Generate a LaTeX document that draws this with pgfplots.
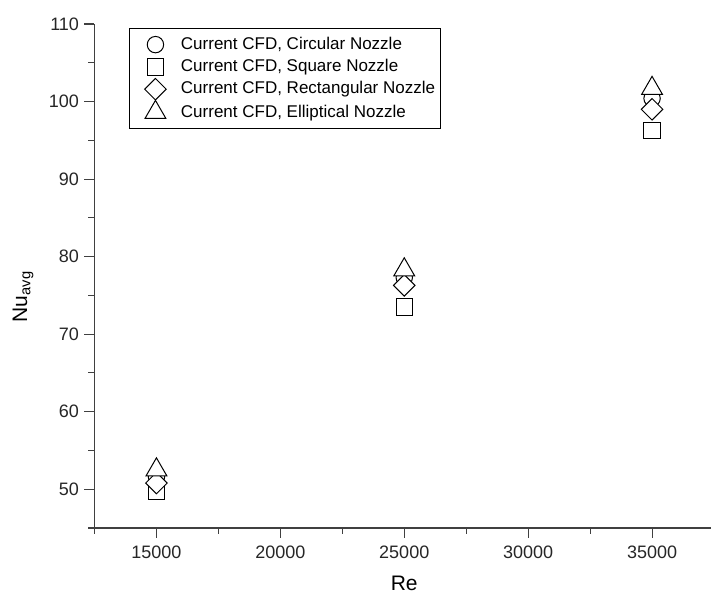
\documentclass[border=0pt]{standalone}
\usepackage{pgfplots}
\pgfplotsset{compat=1.18}
\usepackage{fontspec}
\setmainfont{Liberation Sans}
\begin{document}
\begin{tikzpicture}
\begin{axis}[
  name=ax,
  scale only axis,
  width=619.5pt, height=504pt,
  xmin=12500, xmax=37500, ymin=45, ymax=110,
  axis lines=left,
  axis line style={-, line width=1.1pt, draw=black!75},
  xtick={15000,20000,25000,30000,35000},
  minor xtick={12500,17500,22500,27500,32500,37500},
  ytick={50,60,70,80,90,100,110},
  minor ytick={45,55,65,75,85,95,105},
  scaled x ticks=false,
  xticklabel style={/pgf/number format/fixed, /pgf/number format/precision=0, yshift=-4pt},
  yticklabel style={xshift=-2pt},
  tick align=outside,
  major tick length=10pt, minor tick length=6pt,
  every tick/.style={line width=1.1pt, draw=black!75},
  /pgf/number format/1000 sep={},
  /pgf/number format/assume math mode=true,
  ticklabel style={font=\fontsize{18}{20}\selectfont, text=black!85},
  xlabel={Re},
  ylabel={Nu\textsubscript{avg}},
  every axis x label/.style={at={(axis description cs:0.5,0)}, yshift=-55pt, anchor=center, font=\fontsize{21}{24}\selectfont},
  every axis y label/.style={at={(axis description cs:0,0.459)}, xshift=-71.5pt, rotate=90, anchor=center, font=\fontsize{21}{24}\selectfont},
  clip=false,
  legend cell align=left,
  legend image code/.code={\path[draw=none,fill=none] (0pt,-5pt) rectangle (46pt,5pt); \draw[mark repeat=2,mark phase=2,#1] plot coordinates {(2pt,0pt)(22pt,0pt)(42pt,0pt)};},
  legend style={at={(axis description cs:0.0557,0.992)}, anchor=north west, draw=black, line width=0.9pt,
    font=\fontsize{17}{20}\selectfont, row sep=0pt, inner xsep=4pt, inner ysep=5pt,
    nodes={inner sep=1.5pt, text height=14.3pt, text depth=5pt}},
]
\addplot[only marks, mark=o, mark size=8.2pt, line width=1pt, black, mark options={fill=white}]
  coordinates {(15000,51.6) (25000,77.3) (35000,100.4)};
\addlegendentry{Current CFD, Circular Nozzle}
\addplot[only marks, mark=square*, mark size=8.2pt, line width=1pt, black, mark options={fill=white}]
  coordinates {(15000,49.7) (25000,73.5) (35000,96.3)};
\addlegendentry{Current CFD, Square Nozzle}
\addplot[only marks, mark=square*, mark size=7.6pt, mark options={rotate=45, fill=white}, line width=1pt, black]
  coordinates {(15000,50.8) (25000,76.3) (35000,99.0)};
\addlegendentry{Current CFD, Rectangular Nozzle}
\addplot[only marks, mark=triangle*, mark size=12pt, line width=1pt, black, mark options={fill=white}]
  coordinates {(15000,52.5) (25000,78.3) (35000,101.7)};
\addlegendentry{Current CFD, Elliptical Nozzle}
\end{axis}
\pgfresetboundingbox
\path ([xshift=-94.5pt,yshift=-67pt]ax.south west) rectangle ([xshift=-3pt,yshift=24pt]ax.north east);
\end{tikzpicture}
\end{document}
